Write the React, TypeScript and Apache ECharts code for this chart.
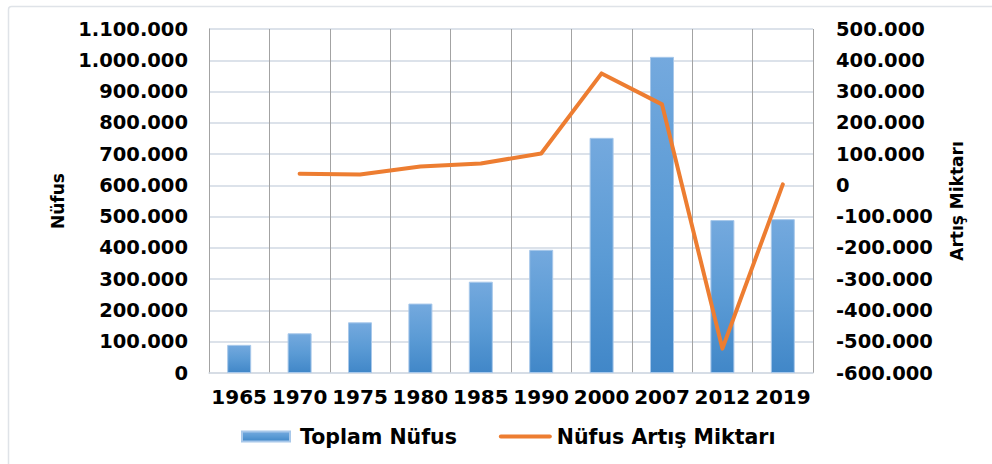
import React, { useEffect, useRef } from "react";
import * as echarts from "echarts";

const years = ["1965", "1970", "1975", "1980", "1985", "1990", "2000", "2007", "2012", "2019"];
const totalPopulation = [90000, 127000, 162000, 222000, 292000, 394000, 752000, 1011000, 489000, 492000];
const populationChange: (number | null)[] = [null, 37000, 35000, 60000, 70000, 102000, 358000, 259000, -522000, 3000];

const leftMin = 0;
const leftMax = 1100000;
const rightMin = -600000;
const rightMax = 500000;
const tickStep = 100000;

const seriesBarName = "Toplam Nüfus";
const seriesLineName = "Nüfus Artış Miktarı";
const leftAxisName = "Nüfus";
const rightAxisName = "Artış Miktarı";

const FONT = "DejaVu Sans";

function fmt(v: number): string {
  const neg = v < 0;
  const s = Math.abs(Math.round(v)).toString().replace(/\B(?=(\d{3})+(?!\d))/g, ".");
  return (neg ? "-" : "") + s;
}

export default function App() {
  const ref = useRef<HTMLDivElement>(null);
  useEffect(() => {
    if (!ref.current) return;
    const chart = echarts.init(ref.current, null, { renderer: "svg" });
    const labelStyle = { fontFamily: FONT, fontWeight: "bold" as const, fontSize: 19.5, color: "#000" };
    chart.setOption({
      animation: false,
      backgroundColor: "#ffffff",
      graphic: [
        {
          type: "rect",
          shape: { x: 8.5, y: 6.5, width: 1000, height: 500, r: 3 },
          style: { fill: "none", stroke: "#dfe3e8", lineWidth: 1.5 },
          z: -10,
        },
      ],
      grid: { left: 209, right: 179, top: 29, bottom: 91, containLabel: false },
      legend: {
        left: 241,
        top: 426,
        padding: 0,
        itemGap: 42,
        itemWidth: 53,
        itemHeight: 10,
        textStyle: { fontFamily: FONT, fontWeight: "bold", fontSize: 20.5, color: "#000" },
        data: [
          { name: seriesBarName, icon: "path://M0,0 M53,10 M0,0 L48,0 L48,10 L0,10 Z" },
          {
            name: seriesLineName,
            icon: "path://M0,0 M53,10 M2,3 L51,3 A2,2 0 0 1 51,7 L2,7 A2,2 0 0 1 2,3 Z",
            itemStyle: { color: "#ed7d31" },
          },
        ],
      },
      xAxis: {
        type: "category",
        data: years,
        boundaryGap: true,
        axisLine: { show: true, lineStyle: { color: "#d5dbe4", width: 1.5 } },
        axisTick: { show: false },
        axisLabel: { ...labelStyle, fontSize: 20, margin: 14, interval: 0 },
        splitLine: { show: true, lineStyle: { color: "#a3a3a3", width: 1 } },
      },
      yAxis: [
        {
          type: "value",
          min: leftMin,
          max: leftMax,
          interval: tickStep,
          name: leftAxisName,
          nameLocation: "middle",
          nameRotate: 90,
          nameGap: 143,
          nameTextStyle: { fontFamily: FONT, fontWeight: "bold", fontSize: 17, color: "#000" },
          axisLine: { show: true, lineStyle: { color: "#a3a3a3", width: 1 } },
          axisTick: { show: false },
          axisLabel: { ...labelStyle, margin: 21, formatter: (v: number) => fmt(v) },
          splitLine: { show: true, lineStyle: { color: "#dce2ea", width: 2 } },
        },
        {
          type: "value",
          min: rightMin,
          max: rightMax,
          interval: tickStep,
          name: rightAxisName,
          nameLocation: "middle",
          nameRotate: 90,
          nameGap: 135,
          nameTextStyle: { fontFamily: FONT, fontWeight: "bold", fontSize: 17, color: "#000" },
          axisLine: { show: false },
          axisTick: { show: false },
          axisLabel: { ...labelStyle, margin: 23, formatter: (v: number) => fmt(v) },
          splitLine: { show: false },
        },
      ],
      series: [
        {
          name: seriesBarName,
          type: "bar",
          yAxisIndex: 0,
          barWidth: 24,
          data: totalPopulation,
          itemStyle: {
            color: new echarts.graphic.LinearGradient(0, 0, 0, 1, [
              { offset: 0, color: "#74a9de" },
              { offset: 0.5, color: "#5b9bd5" },
              { offset: 1, color: "#4187c8" },
            ]),
            borderColor: "#a8c8ea",
            borderWidth: 1,
          },
        },
        {
          name: seriesLineName,
          type: "line",
          yAxisIndex: 1,
          data: populationChange,
          symbol: "none",
          lineStyle: { color: "#ed7d31", width: 4, cap: "round", join: "round" },
          itemStyle: { color: "#ed7d31" },
          z: 5,
        },
      ],
    });
    return () => chart.dispose();
  }, []);
  return (
    <div
      ref={ref}
      style={{ position: "fixed", left: 0, top: 0, width: 992, height: 464 }}
    />
  );
}
